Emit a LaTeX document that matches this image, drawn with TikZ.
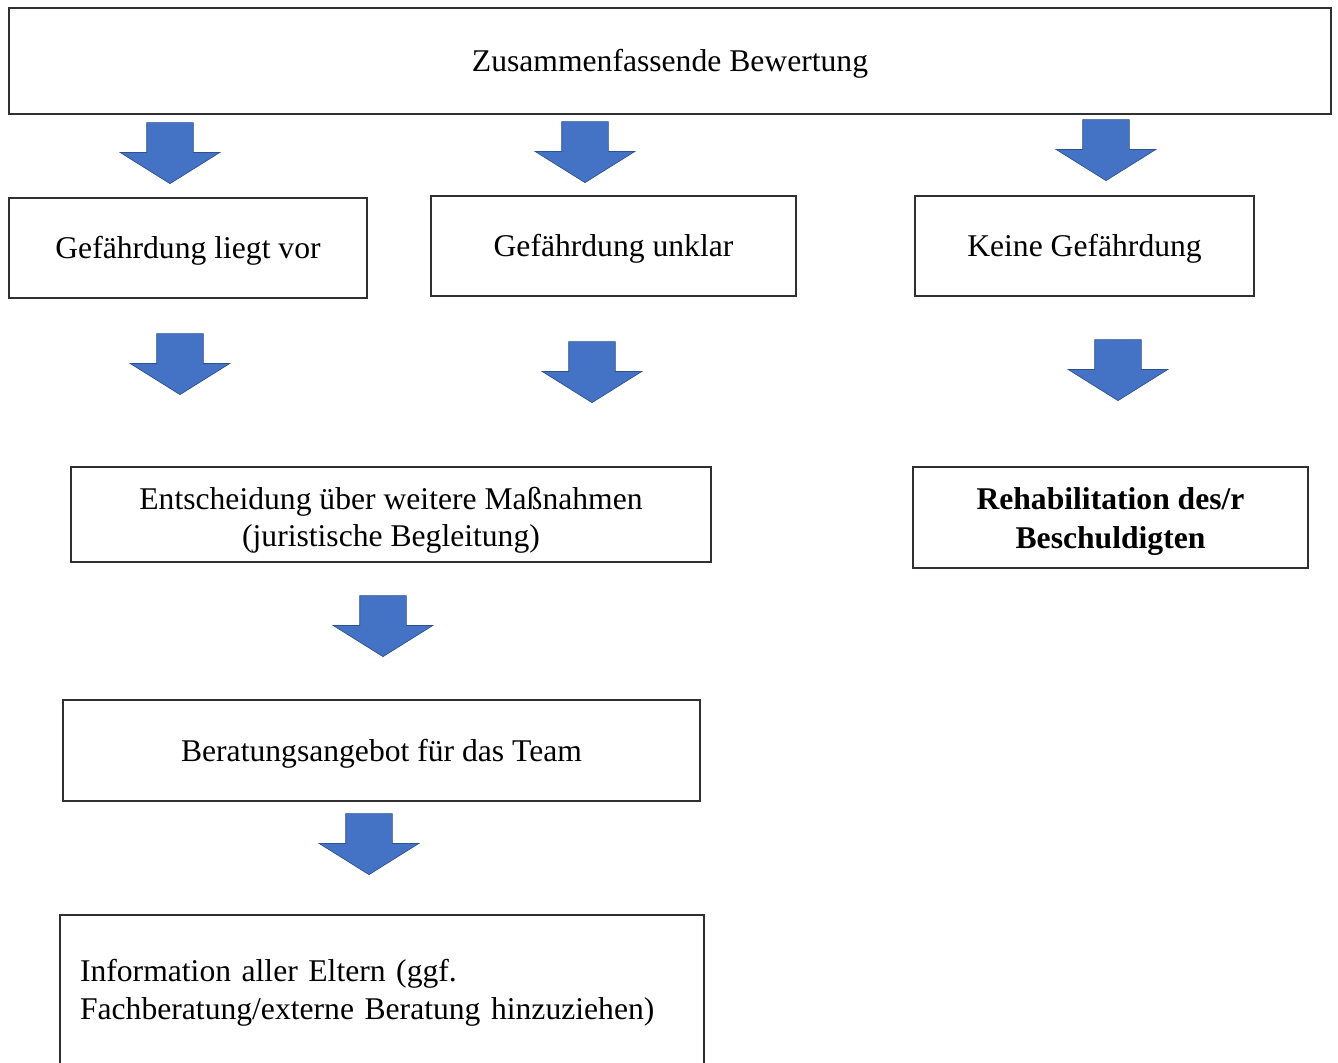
\documentclass[tikz,border=0pt]{standalone}
\usepackage{fontspec}
\setmainfont{Liberation Serif}
\usetikzlibrary{shapes.arrows}

\definecolor{arrowblue}{HTML}{4472C4}
\definecolor{arrowedge}{HTML}{2F528F}
\definecolor{boxline}{HTML}{303030}

\tikzset{
  box/.style={draw=boxline, line width=1pt, fill=white, align=center,
    font=\fontsize{18}{21.5}\selectfont, inner sep=0pt},
  oneline/.style={box, text height=0.56cm},
  blockarrow/.style={single arrow, rotate=-90, fill=arrowblue, draw=arrowedge,
    line width=0.4pt, minimum height=1.22cm, single arrow head extend=0.53cm,
    inner xsep=0pt, inner ysep=0.46cm, single arrow tip angle=116, anchor=tip}
}

\begin{document}
\begin{tikzpicture}[x=0.02cm, y=-0.02cm]
  \useasboundingbox (0,0) rectangle (1338,1062);
  \clip (0,0) rectangle (1338,1062);

  % boxes
  \node[oneline, minimum width=26.44cm, minimum height=2.12cm] (bewertung) at (670,61) {Zusammenfassende Bewertung};
  \node[oneline, minimum width=7.16cm, minimum height=2cm] (liegtvor) at (188,248) {Gefährdung liegt vor};
  \node[oneline, minimum width=7.3cm, minimum height=2cm] (unklar) at (613.5,246) {Gefährdung unklar};
  \node[oneline, minimum width=6.78cm, minimum height=2cm] (keine) at (1084.5,246) {Keine Gefährdung};
  \node[box, minimum width=12.8cm, minimum height=1.9cm] (massnahmen) at (391,514.5) {\rule{0pt}{0.68cm}Entscheidung über weitere Maßnahmen\\(juristische Begleitung)};
  \node[box, minimum width=7.9cm, minimum height=2.02cm, font=\fontsize{18}{22}\selectfont\bfseries] (rehab) at (1110.5,517.5) {\rule{0pt}{0.6cm}Rehabilitation des/r\\Beschuldigten};
  \node[oneline, minimum width=12.74cm, minimum height=2.02cm] (beratung) at (381.5,750.5) {Beratungsangebot für das Team};
  % lower edge runs off the page
  \node[oneline, minimum width=12.88cm, minimum height=3cm, align=left, text width=12.08cm, inner xsep=0.4cm] (eltern) at (382,990) {Information aller Eltern (ggf.\\Fachberatung/externe Beratung hinzuziehen)};

  % block arrows
  \node[blockarrow] (arr1) at (170,184) {};
  \node[blockarrow] (arr2) at (585,183) {};
  \node[blockarrow] (arr3) at (1106,181) {};
  \node[blockarrow] (arr4) at (180,395) {};
  \node[blockarrow] (arr5) at (592,403) {};
  \node[blockarrow] (arr6) at (1118,401) {};
  \node[blockarrow] (arr7) at (383,657) {};
  \node[blockarrow] (arr8) at (369,875) {};
\end{tikzpicture}
\end{document}
